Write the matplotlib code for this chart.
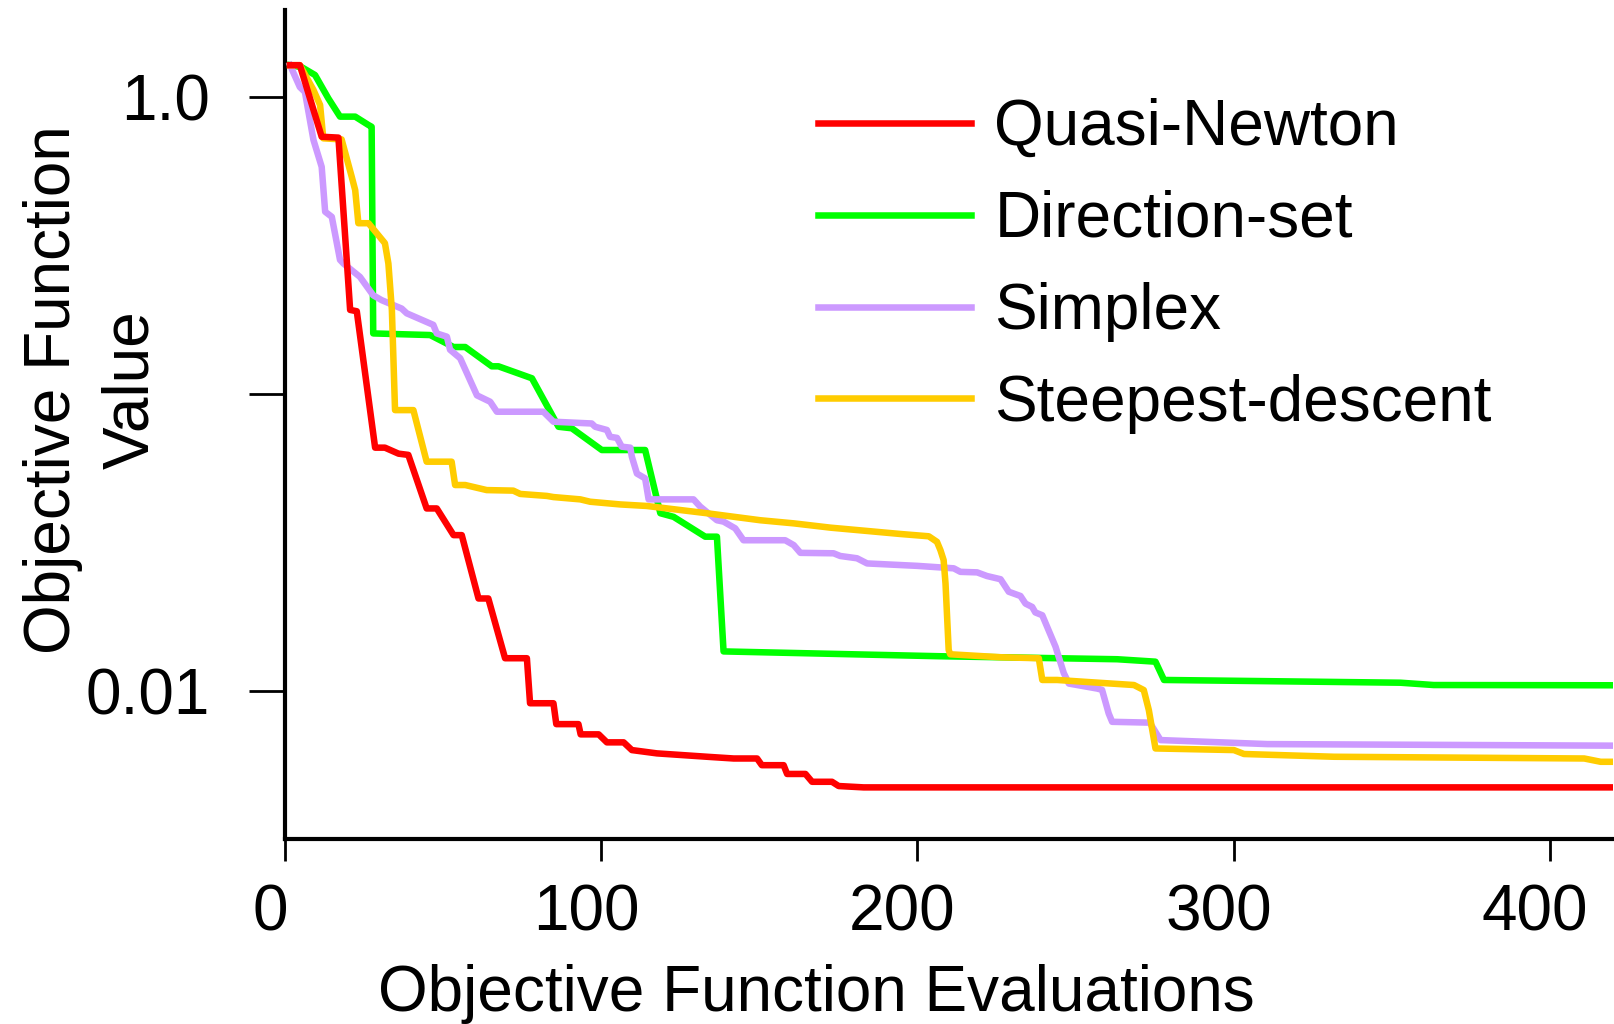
import matplotlib
matplotlib.use("Agg")
import matplotlib.pyplot as plt
import matplotlib.transforms as mtransforms
from matplotlib.ticker import NullLocator

plt.rcParams['font.family'] = ['Liberation Sans', 'DejaVu Sans']

# (evaluations, objective value) for each optimiser
quasi_newton = [
    (1.6, 1.28), (4.7, 1.28), (11.6, 0.735), (16.9, 0.73), (20.6, 0.192),
    (22.7, 0.19), (28.5, 0.066), (31.6, 0.066), (35.9, 0.063), (39.0, 0.0624),
    (44.8, 0.0412), (48.0, 0.0412), (53.3, 0.0335), (55.9, 0.0335),
    (61.2, 0.0205), (64.3, 0.0205), (69.6, 0.0129), (76.5, 0.0129),
    (77.5, 0.0091), (84.9, 0.0091), (85.8, 0.00774), (92.8, 0.00774),
    (93.5, 0.00715), (99.2, 0.00715), (101.8, 0.00672), (107.1, 0.00672),
    (109.7, 0.00633), (117.6, 0.00617), (134.5, 0.0060), (141.9, 0.00593),
    (149.3, 0.00593), (150.8, 0.00563), (157.7, 0.00563), (158.8, 0.00526),
    (164.6, 0.00526), (166.7, 0.00495), (173.0, 0.00495), (175.1, 0.00479),
    (183.0, 0.00474), (420.0, 0.00474),
]

direction_set = [
    (1.6, 1.28), (5.3, 1.26), (9.5, 1.186), (13.7, 0.99), (17.4, 0.859),
    (22.2, 0.859), (26.4, 0.805), (27.4, 0.794), (27.9, 0.16), (45.9, 0.158),
    (53.3, 0.144), (57.0, 0.144), (65.4, 0.124), (67.5, 0.124), (78.1, 0.113),
    (86.5, 0.0776), (90.7, 0.0767), (100.2, 0.0648), (113.9, 0.0648),
    (118.7, 0.0397), (122.9, 0.0386), (132.9, 0.0331), (136.6, 0.0331),
    (138.7, 0.0136), (207.3, 0.0131), (263.2, 0.0128), (275.3, 0.01256),
    (278.0, 0.0109), (352.8, 0.01067), (363.3, 0.01048), (420.0, 0.01046),
]

simplex = [
    (1.6, 1.28), (4.7, 1.08), (6.3, 1.04), (9.0, 0.717), (11.6, 0.582),
    (12.7, 0.411), (14.8, 0.395), (17.4, 0.283), (18.5, 0.275), (23.7, 0.248),
    (27.9, 0.215), (30.6, 0.207), (36.9, 0.194), (38.5, 0.187), (46.9, 0.171),
    (48.0, 0.16), (51.2, 0.156), (52.2, 0.141), (55.4, 0.132), (60.7, 0.099),
    (64.9, 0.0942), (67.0, 0.0872), (81.7, 0.0872), (84.9, 0.0807),
    (97.0, 0.0796), (98.1, 0.0776), (101.8, 0.0757), (102.8, 0.0718),
    (105.0, 0.0712), (106.5, 0.0665), (109.2, 0.0660), (109.7, 0.0615),
    (111.3, 0.054), (113.9, 0.052), (115.0, 0.0442), (129.2, 0.0442),
    (131.3, 0.0418), (136.6, 0.0376), (138.7, 0.0372), (142.4, 0.0353),
    (145.0, 0.0322), (158.2, 0.0322), (160.9, 0.031), (163.0, 0.0292),
    (173.5, 0.0291), (175.6, 0.0285), (180.9, 0.028), (184.1, 0.0269),
    (199.9, 0.0264), (211.5, 0.0259), (213.6, 0.0252), (218.9, 0.0251),
    (222.0, 0.0244), (226.3, 0.0238), (228.9, 0.0216), (232.6, 0.0209),
    (234.2, 0.0197), (236.3, 0.0192), (237.3, 0.0184), (239.5, 0.018),
    (243.7, 0.0141), (246.3, 0.0115), (247.9, 0.0106), (256.8, 0.0102),
    (258.4, 0.0101), (260.5, 0.00841), (261.6, 0.00788), (273.5, 0.00783),
    (276.9, 0.00684), (310.7, 0.00663), (420.0, 0.00655),
]

steepest_descent = [
    (1.6, 1.28), (4.7, 1.28), (9.0, 1.056), (11.1, 0.94), (12.1, 0.726),
    (17.9, 0.72), (21.1, 0.539), (22.2, 0.486), (23.2, 0.376), (26.4, 0.376),
    (31.6, 0.322), (32.7, 0.275), (33.8, 0.192), (34.8, 0.0883),
    (40.6, 0.0883), (44.8, 0.0592), (52.7, 0.0592), (53.8, 0.0494),
    (57.0, 0.0494), (63.8, 0.0475), (72.2, 0.0473), (74.4, 0.0461),
    (82.8, 0.0454), (84.9, 0.0450), (93.4, 0.0442), (96.5, 0.0434),
    (106.0, 0.0425), (114.4, 0.042), (125.0, 0.0407), (133.4, 0.0397),
    (139.7, 0.0389), (150.3, 0.0376), (160.9, 0.0367), (172.5, 0.0355),
    (184.1, 0.0346), (194.6, 0.0338), (203.6, 0.0332), (206.2, 0.0318),
    (207.3, 0.0298), (208.3, 0.0276), (208.9, 0.023), (209.9, 0.01375),
    (210.4, 0.0133), (226.3, 0.013), (238.4, 0.0129), (239.5, 0.0109),
    (244.2, 0.0109), (252.6, 0.01075), (268.5, 0.01048), (271.6, 0.01008),
    (273.2, 0.00863), (275.3, 0.00641), (300.1, 0.00633), (303.3, 0.00614),
    (331.8, 0.00601), (410.9, 0.00593), (416.1, 0.00578), (420.0, 0.00578),
]

names = ['Quasi-Newton', 'Direction-set', 'Simplex', 'Steepest-descent']
series = [quasi_newton, direction_set, simplex, steepest_descent]
colors = ['#ff0000', '#00ff00', '#cc99ff', '#ffcc00']
zorders = [5, 2, 3, 4]

x_ticks = [0, 100, 200, 300, 400]
y_ticks = [1.0, 0.1, 0.01]
y_tick_labels = ['1.0', '', '0.01']

fs = 46
lw = 4.7

fig = plt.figure(figsize=(16.14, 10.24), dpi=100)
ax = fig.add_axes([285 / 1614, 1 - 839 / 1024, 1328 / 1614, 829 / 1024])

for name, pts, c, z in zip(names, series, colors, zorders):
    xs = [p[0] for p in pts]
    ys = [p[1] for p in pts]
    ax.plot(xs, ys, color=c, lw=lw, label=name, zorder=z,
            solid_joinstyle='round')

ax.set_yscale('log')
ax.set_xlim(0, 420)
ax.set_ylim(10 ** -2.498, 10 ** 0.293)

ax.set_xticks(x_ticks)
ax.set_yticks(y_ticks)
ax.set_yticklabels(y_tick_labels)
ax.yaxis.set_minor_locator(NullLocator())

for side in ['top', 'right']:
    ax.spines[side].set_visible(False)
for side in ['left', 'bottom']:
    ax.spines[side].set_linewidth(3)

ax.tick_params(axis='x', length=16, width=2, pad=16, labelsize=fs)
ax.tick_params(axis='y', length=26, width=2, pad=28, labelsize=fs)

shift = mtransforms.ScaledTranslation(-15 / 100, 0, fig.dpi_scale_trans)
for lab in ax.get_xticklabels():
    lab.set_transform(lab.get_transform() + shift)

ax.set_xlabel('Objective Function Evaluations', fontsize=fs)
ax.xaxis.set_label_coords(0.40, -0.187)
ax.xaxis.label.set_verticalalignment('center')

fig.text(92 / 1614, 1 - 390 / 1024, 'Objective Function\nValue', rotation=90,
         fontsize=fs, ha='center', va='center', multialignment='center',
         linespacing=1.4)

leg = ax.legend(loc='upper left', bbox_to_anchor=((818 - 285) / 1328, 1 - (98 - 10) / 829),
                frameon=False, fontsize=fs, handlelength=2.4, handletextpad=0.36,
                labelspacing=0.5, borderpad=0, borderaxespad=0)
for line in leg.get_lines():
    line.set_linewidth(lw)

fig.savefig('out.png', dpi=100)
